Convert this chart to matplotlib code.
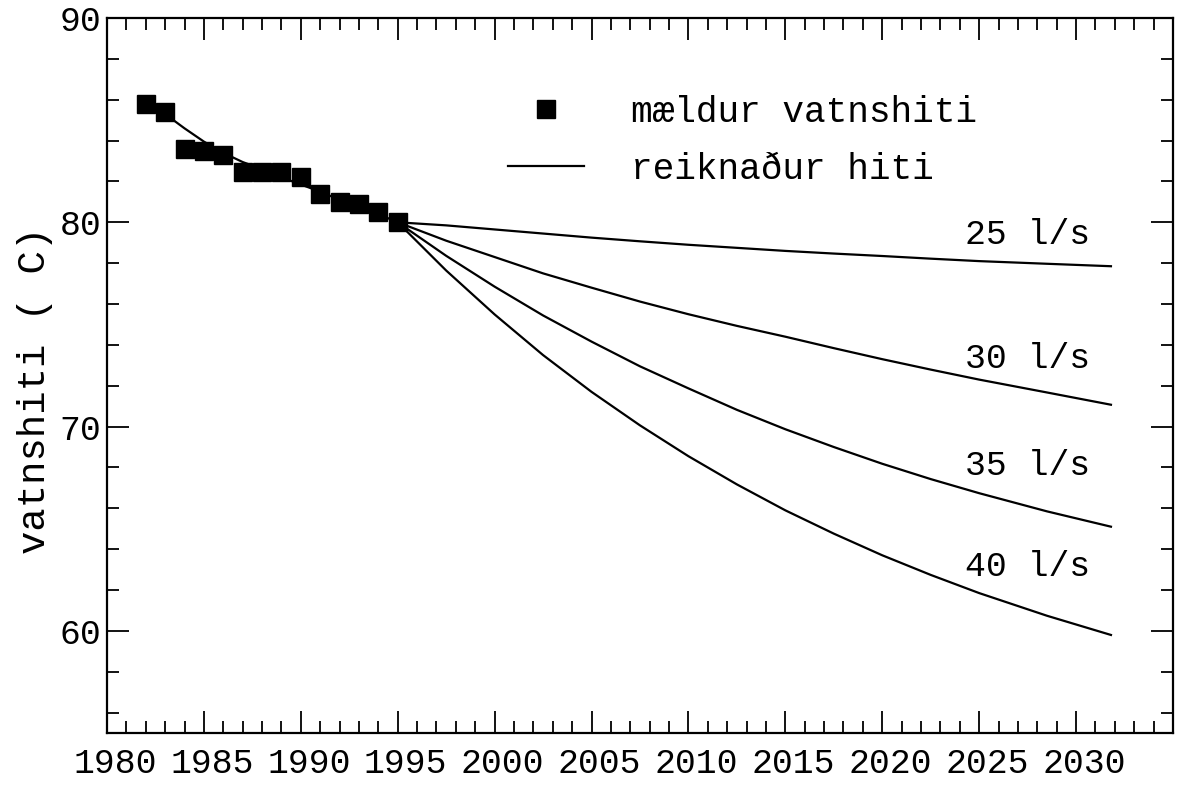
import matplotlib
matplotlib.use('Agg')
import matplotlib.pyplot as plt
import matplotlib.transforms as mtransforms
from matplotlib.ticker import MultipleLocator, FixedLocator

# measured water temperature
meas_years = [1982, 1983, 1984, 1985, 1986, 1987, 1988, 1989, 1990, 1991, 1992, 1993, 1994, 1995]
meas_temp = [85.8, 85.4, 83.6, 83.5, 83.3, 82.45, 82.45, 82.45, 82.2, 81.4, 81.0, 80.9, 80.5, 80.0]

# computed (fitted) temperature, history
fit_years = [1982, 1983, 1984, 1985, 1986, 1987, 1988, 1989, 1990, 1991, 1992, 1993, 1994, 1995]
fit_temp = [85.8, 85.3, 84.6, 83.95, 83.4, 82.95, 82.6, 82.2, 81.85, 81.5, 81.1, 80.75, 80.4, 80.0]

# forecasts for different production rates
proj_years = [1995, 1997.5, 2000, 2002.5, 2005, 2007.5, 2010, 2012.5, 2015,
              2017.5, 2020, 2022.5, 2025, 2028.5, 2031.8]
proj_25 = [80.0, 79.85, 79.65, 79.45, 79.25, 79.07, 78.9, 78.75, 78.6,
           78.47, 78.35, 78.22, 78.1, 77.97, 77.85]
proj_30 = [80.0, 79.1, 78.3, 77.5, 76.8, 76.12, 75.5, 74.93, 74.4,
           73.84, 73.3, 72.79, 72.3, 71.67, 71.07]
proj_35 = [80.0, 78.36, 76.85, 75.44, 74.16, 72.95, 71.87, 70.82, 69.87,
           69.0, 68.18, 67.43, 66.74, 65.85, 65.1]
proj_40 = [80.0, 77.64, 75.49, 73.5, 71.7, 70.06, 68.55, 67.17, 65.9,
           64.76, 63.7, 62.74, 61.85, 60.74, 59.8]
proj_series = [proj_25, proj_30, proj_35, proj_40]
proj_labels = ['25 l/s', '30 l/s', '35 l/s', '40 l/s']
proj_label_x = [2027.5, 2027.5, 2027.5, 2027.5]
proj_label_y = [79.4, 73.35, 68.1, 63.15]

xticks = [1980, 1985, 1990, 1995, 2000, 2005, 2010, 2015, 2020, 2025, 2030]
yticks = [60, 70, 80, 90]

FONT = 'Liberation Mono'
plt.rcParams['font.family'] = [FONT, 'DejaVu Sans']

fig = plt.figure(figsize=(11.81, 7.87), dpi=100)
ax = fig.add_axes([0.0906, 0.0686, 0.9026, 0.9085])

ax.plot(meas_years, meas_temp, linestyle='none', marker='s', markersize=13.5,
        color='black', label='mældur vatnshiti', zorder=3)
ax.plot(fit_years, fit_temp, color='black', linewidth=1.6, label='reiknaður hiti', zorder=2)
for ys in proj_series:
    ax.plot(proj_years, ys, color='black', linewidth=1.6, zorder=2)
for lx, ly, lt in zip(proj_label_x, proj_label_y, proj_labels):
    ax.text(lx, ly, lt, ha='center', va='center', fontsize=25, color='black')

ax.set_xlim(1980, 2035)
ax.set_ylim(55, 90)
ax.xaxis.set_major_locator(FixedLocator(xticks))
ax.xaxis.set_minor_locator(MultipleLocator(1))
ax.yaxis.set_major_locator(FixedLocator(yticks))
ax.yaxis.set_minor_locator(MultipleLocator(2))
ax.set_xticklabels([str(v) for v in xticks])
ax.set_yticklabels([str(v) for v in yticks])

ax.tick_params(which='both', direction='in', top=True, right=True, width=1.3, colors='black')
ax.tick_params(which='major', length=16)
ax.tick_params(which='minor', length=8.5)
ax.tick_params(axis='x', which='major', labelsize=25, pad=10)
ax.tick_params(axis='y', which='major', labelsize=25, pad=4)
for sp in ax.spines.values():
    sp.set_linewidth(1.6)

# tick labels sit slightly right of their ticks in the original
off = mtransforms.ScaledTranslation(8 / 100, 0, fig.dpi_scale_trans)
for lab in ax.get_xticklabels():
    lab.set_transform(lab.get_transform() + off)

fig.text(35 / 1181, 1 - 390 / 787, 'vatnshiti ( C)', rotation=90, ha='center', va='center',
         fontsize=28, color='black')

ax.legend(loc='upper left', bbox_to_anchor=(0.376, 0.893), frameon=False,
          fontsize=26, handlelength=2.1, handletextpad=1.3, labelspacing=0.62,
          borderaxespad=0, borderpad=0, markerscale=1.0)

fig.savefig('out.png', dpi=100)
